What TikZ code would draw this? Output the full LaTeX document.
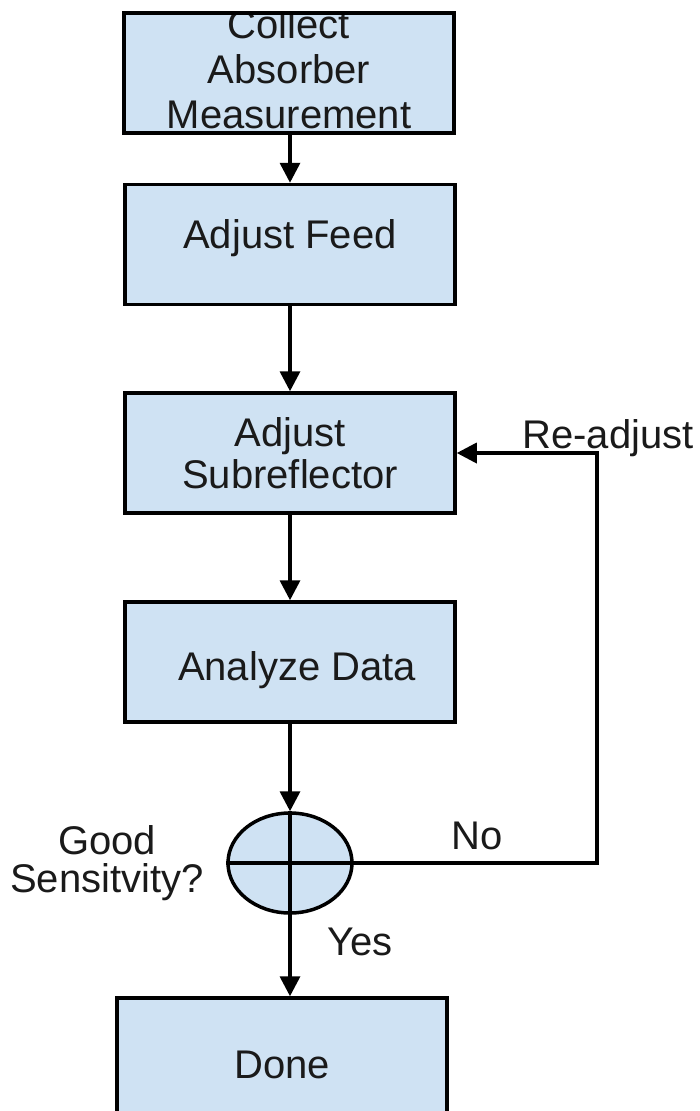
\documentclass[tikz,border=0pt]{standalone}
\usepackage{fontspec}
\setmainfont{Liberation Sans}
\usepackage{tikz}
\usetikzlibrary{arrows.meta,shapes.geometric}
\usepackage{xcolor}
\definecolor{boxblue}{HTML}{CFE2F3}
\definecolor{inkgray}{HTML}{1A1A1A}

\tikzset{
  stepbox/.style={draw=black, fill=boxblue, line width=3.5pt, minimum width=330pt, minimum height=120pt, inner sep=0pt, align=center, text=inkgray},
  flow/.style={line width=3.5pt, -{Triangle[length=20pt,width=20pt]}},
  tag/.style={text=inkgray, anchor=base}
}

\begin{document}
\begin{tikzpicture}[x=1pt, y=-1pt, font=\fontsize{40}{42}\selectfont]
\useasboundingbox (0,0) rectangle (699,1111);
\node [stepbox, path picture={\node [align=center, text=inkgray, font=\fontsize{40}{45}\selectfont] at ([yshift=4pt]path picture bounding box.center) {Collect\\Absorber\\Measurement};}] (collect) at (289,73) {};
\node [stepbox, text height=29pt, text depth=22pt] (feed) at (290,244.5) {Adjust Feed};
\node [stepbox] (sub) at (290,453) {Adjust\\Subreflector};
\node [stepbox, text height=36pt, text depth=0pt] (analyze) at (290,662) {\hspace*{14pt}Analyze Data};
\node [draw=black, fill=boxblue, line width=3.5pt, ellipse, minimum width=124pt, minimum height=100pt, inner sep=0pt] (dec) at (290,863) {};
\node [stepbox, text height=40pt, text depth=0pt] (done) at (282,1058) {Done};
\draw [line width=3.5pt] (dec.north) -- (dec.south);
\draw [line width=3.5pt] (dec.west) -- (dec.east);
\coordinate (loop) at (597,863);
\draw [flow] (collect.south -| feed.north) -- (feed.north);
\draw [flow] (feed) -- (sub);
\draw [flow] (sub) -- (analyze);
\draw [flow] (analyze) -- (dec);
\draw [flow] (dec.south) -- (dec.south |- done.north);
\draw [flow] (dec.east) -- (loop) |- (sub.east);
\node [tag] (readj) at (608,448) {Re-adjust};
\node [tag] (no) at (477,849) {No};
\node [tag] (yes) at (360,955) {Yes};
\node [align=center, text=inkgray, font=\fontsize{40}{38}\selectfont] (good) at (107,863) {Good\\Sensitvity?};
\end{tikzpicture}
\end{document}
